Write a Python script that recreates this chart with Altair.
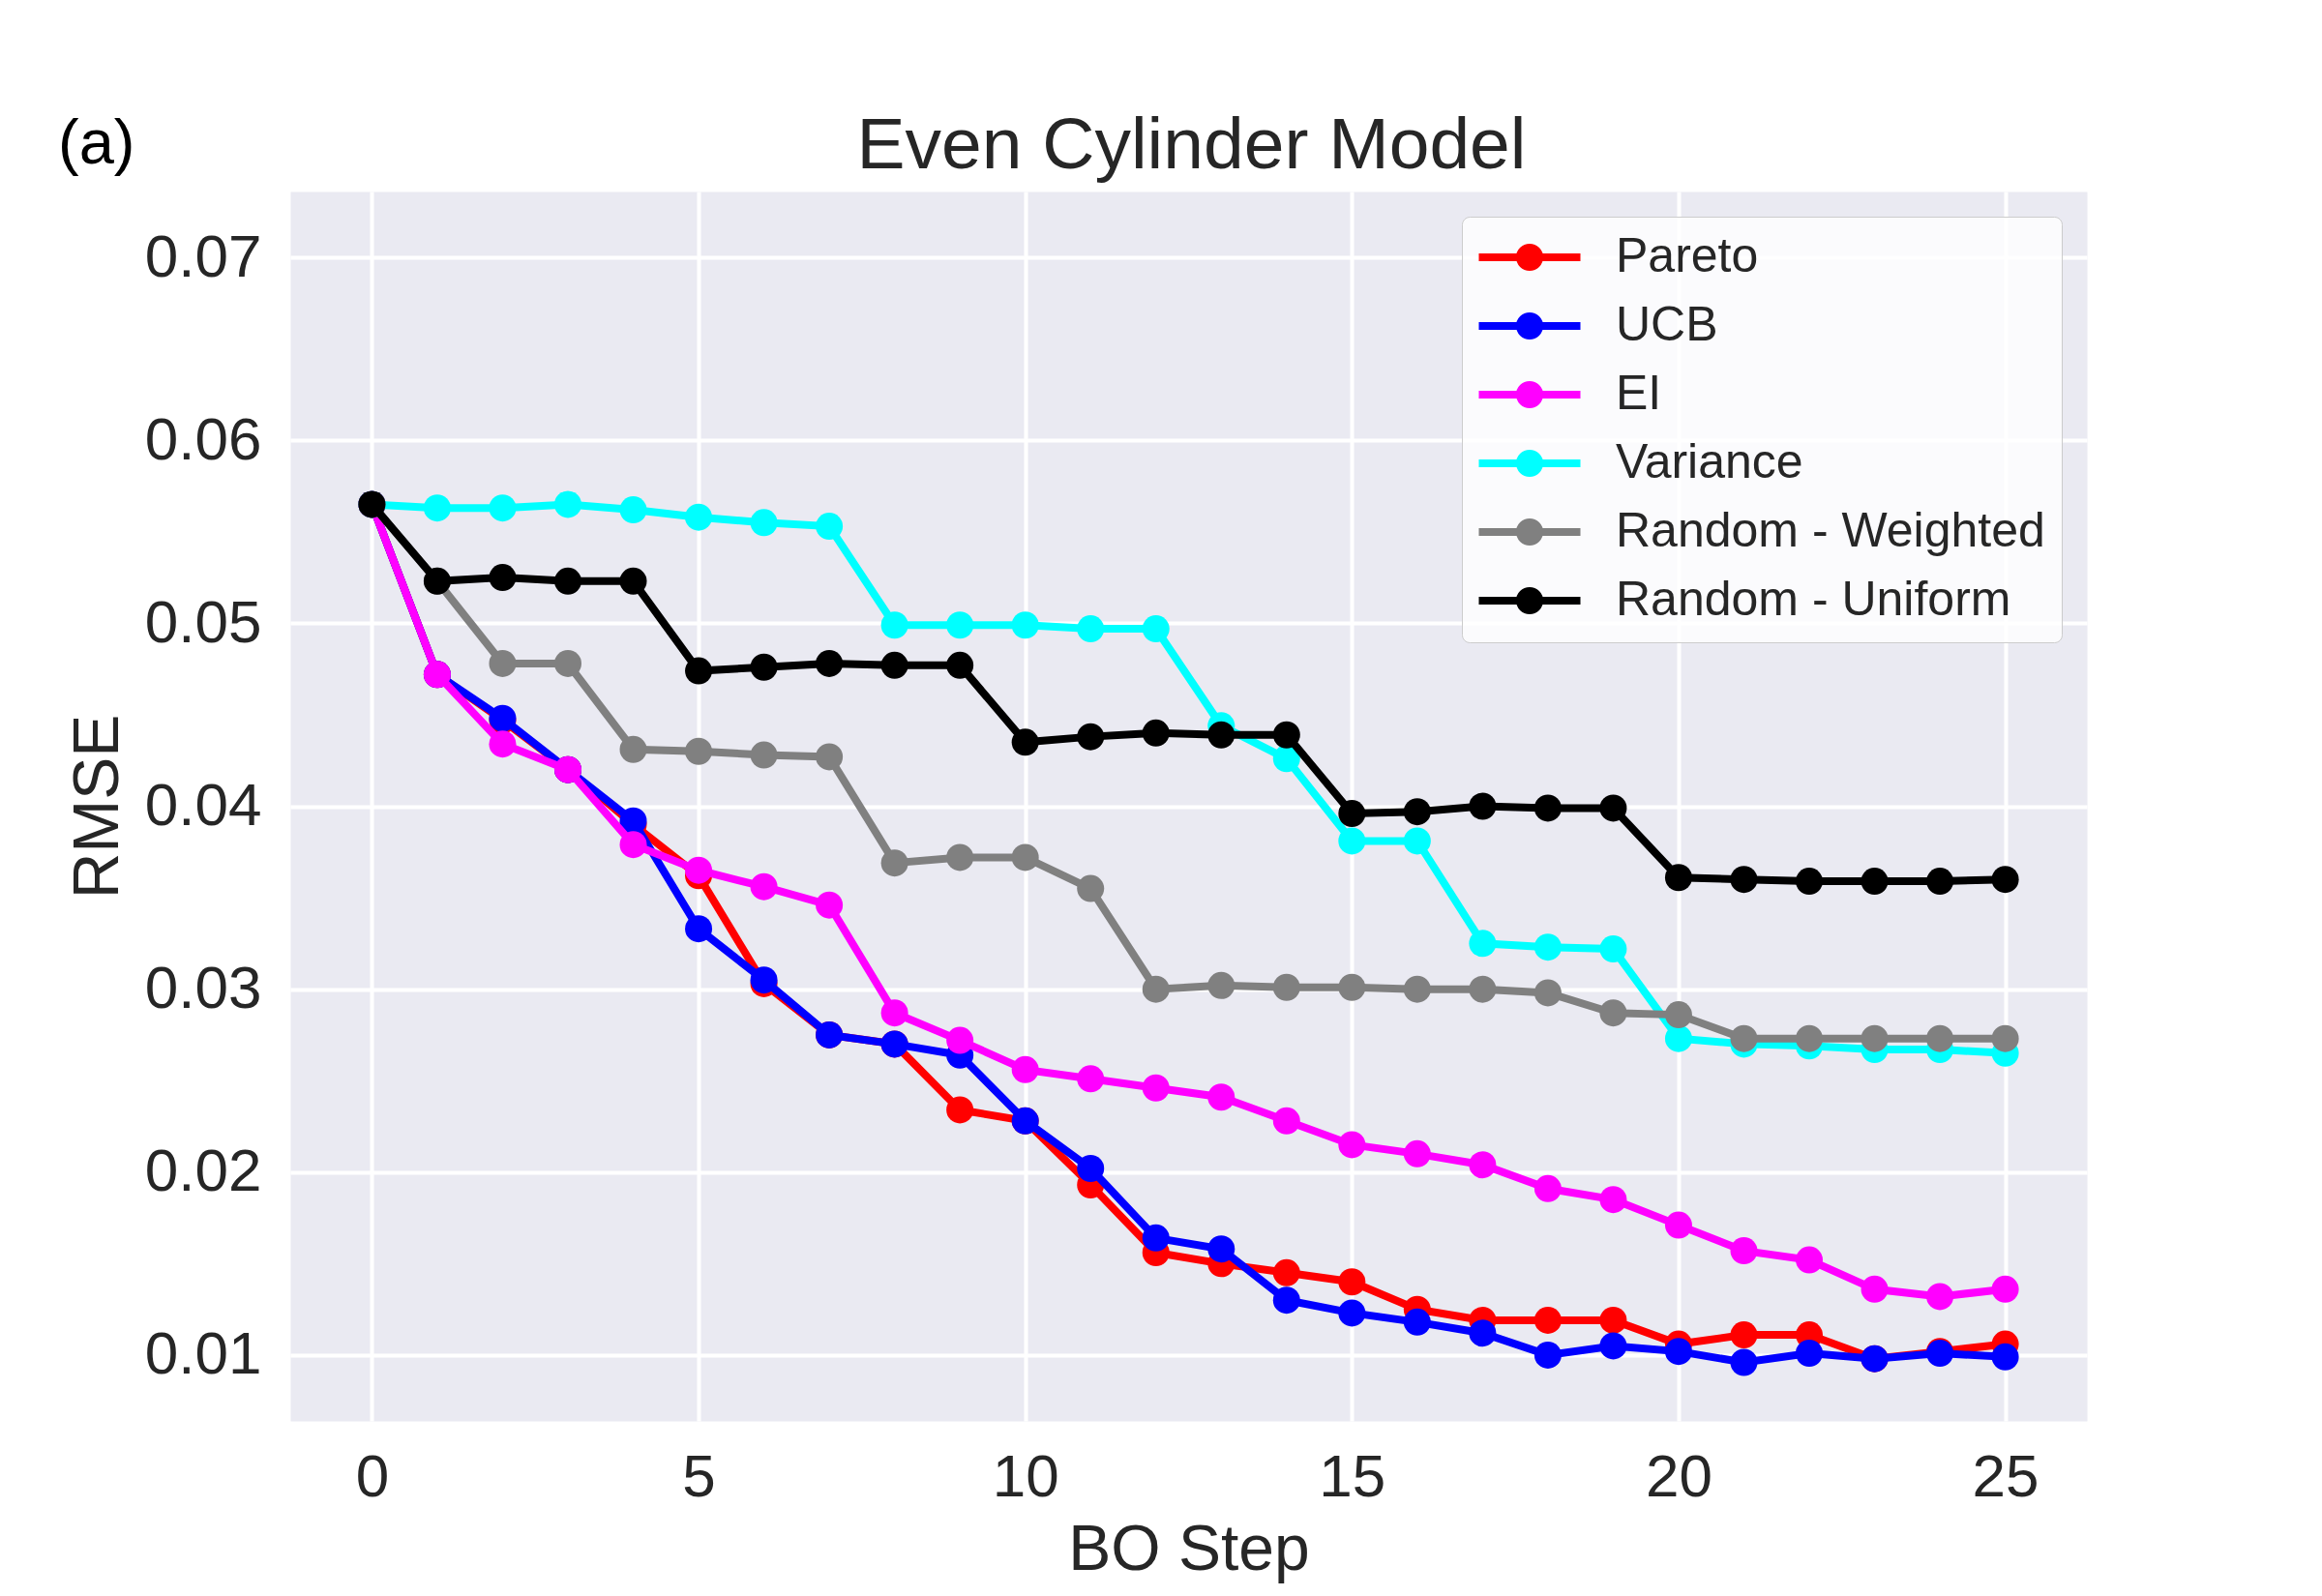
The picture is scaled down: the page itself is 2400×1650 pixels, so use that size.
import altair as alt
import pandas as pd

steps = list(range(26))
series_names = ["Pareto", "UCB", "EI", "Variance", "Random - Weighted", "Random - Uniform"]
series_colors = ["#ff0000", "#0000ff", "#ff00ff", "#00ffff", "#808080", "#000000"]

pareto = [0.0565, 0.0472, 0.0447, 0.0420, 0.0390, 0.0362, 0.0303, 0.0275, 0.0270, 0.0234,
          0.0228, 0.0193, 0.0156, 0.0150, 0.0145, 0.0140, 0.0125, 0.0119, 0.0119, 0.0119,
          0.0106, 0.0111, 0.0111, 0.0098, 0.0102, 0.0106]
ucb = [0.0565, 0.0472, 0.0448, 0.0420, 0.0392, 0.0333, 0.0305, 0.0275, 0.0270, 0.0264,
       0.0228, 0.0202, 0.0164, 0.0158, 0.0130, 0.0123, 0.0118, 0.0112, 0.0100, 0.0105,
       0.0102, 0.0096, 0.0101, 0.0098, 0.0101, 0.0099]
ei = [0.0565, 0.0472, 0.0434, 0.0420, 0.0379, 0.0365, 0.0356, 0.0346, 0.0287, 0.0272,
      0.0256, 0.0251, 0.0246, 0.0241, 0.0228, 0.0215, 0.0210, 0.0204, 0.0191, 0.0185,
      0.0171, 0.0157, 0.0152, 0.0136, 0.0132, 0.0136]
variance = [0.0565, 0.0563, 0.0563, 0.0565, 0.0562, 0.0558, 0.0555, 0.0553, 0.0499, 0.0499,
            0.0499, 0.0497, 0.0497, 0.0444, 0.0426, 0.0381, 0.0381, 0.0325, 0.0323, 0.0322,
            0.0273, 0.0270, 0.0269, 0.0267, 0.0267, 0.0265]
rand_weighted = [0.0565, 0.0523, 0.0478, 0.0478, 0.0431, 0.0430, 0.0428, 0.0427, 0.0369, 0.0372,
                 0.0372, 0.0355, 0.0300, 0.0302, 0.0301, 0.0301, 0.0300, 0.0300, 0.0298, 0.0287,
                 0.0286, 0.0273, 0.0273, 0.0273, 0.0273, 0.0273]
rand_uniform = [0.0565, 0.0523, 0.0525, 0.0523, 0.0523, 0.0474, 0.0476, 0.0478, 0.0477, 0.0477,
                0.0435, 0.0438, 0.0440, 0.0439, 0.0439, 0.0396, 0.0397, 0.0400, 0.0399, 0.0399,
                0.0361, 0.0360, 0.0359, 0.0359, 0.0359, 0.0360]

x_ticks = [0, 5, 10, 15, 20, 25]
y_ticks = [0.01, 0.02, 0.03, 0.04, 0.05, 0.06, 0.07]
chart_title = "Even Cylinder Model"
panel_label = "(a)"

all_values = [pareto, ucb, ei, variance, rand_weighted, rand_uniform]
rows = []
for name, vals in zip(series_names, all_values):
    for s, v in zip(steps, vals):
        rows.append({"step": s, "rmse": v, "method": name})
df = pd.DataFrame(rows)

FONT = "Liberation Sans"
PLOT_W, PLOT_H = 1857, 1271
legend_path = "M-3.75,0L3.75,0M-0.714,0A0.714,0.714,0,1,1,0.714,0A0.714,0.714,0,1,1,-0.714,0Z"

x_enc = alt.X("step:Q", scale=alt.Scale(domain=[-1.25, 26.25], nice=False, zero=False),
              axis=alt.Axis(values=x_ticks, title="BO Step", labelPadding=28, titlePadding=12))
y_enc = alt.Y("rmse:Q", scale=alt.Scale(domain=[0.0064, 0.0736], nice=False, zero=False),
              axis=alt.Axis(values=y_ticks, format=".2f", title="RMSE", labelPadding=30, titlePadding=14))
color_enc = alt.Color(
    "method:N",
    scale=alt.Scale(domain=series_names, range=series_colors),
    sort=series_names,
    legend=alt.Legend(
        title=None, orient="none", legendX=1211, legendY=26,
        symbolType=legend_path, symbolSize=784, symbolStrokeWidth=8,
        symbolOffset=28, labelOffset=64, rowPadding=19,
        labelFontSize=50, labelFont=FONT, labelColor="#262626", labelLimit=0,
        padding=17, cornerRadius=8, fillColor="rgba(255,255,255,0.8)",
        strokeColor="#cccccc",
    ),
)

layers = []
for name in series_names:
    sub = alt.Chart(df).transform_filter(alt.datum.method == name)
    layers.append(sub.mark_line(strokeWidth=8).encode(x=x_enc, y=y_enc, color=color_enc))
    layers.append(sub.mark_point(filled=True, size=784, opacity=1).encode(x=x_enc, y=y_enc, color=color_enc))

txt_df = pd.DataFrame({"t": [chart_title]})
title_mark = alt.Chart(txt_df).mark_text(
    align="center", baseline="alphabetic", fontSize=75, font=FONT, color="#262626"
).encode(x=alt.value(PLOT_W / 2 + 3), y=alt.value(-24), text="t:N")
label_df = pd.DataFrame({"t": [panel_label]})
label_a = alt.Chart(label_df).mark_text(
    align="left", baseline="middle", fontSize=65, font=FONT, color="#000000"
).encode(x=alt.value(-240), y=alt.value(-49), text="t:N")
layers += [title_mark, label_a]

chart = alt.layer(*layers).properties(
    width=PLOT_W, height=PLOT_H,
    padding={"left": 292, "top": 190, "right": 220, "bottom": 175},
    autosize=alt.AutoSizeParams(type="none"),
    background="#ffffff",
).configure_view(fill="#EAEAF2", stroke="transparent").configure_axis(
    domain=False, ticks=False, grid=True, gridColor="#ffffff", gridWidth=4,
    labelFont=FONT, labelFontSize=62, labelColor="#262626",
    titleFont=FONT, titleFontSize=66, titleColor="#262626", titleFontWeight="normal",
)

chart.save("out.html", embed_options={"renderer": "svg", "actions": False})
